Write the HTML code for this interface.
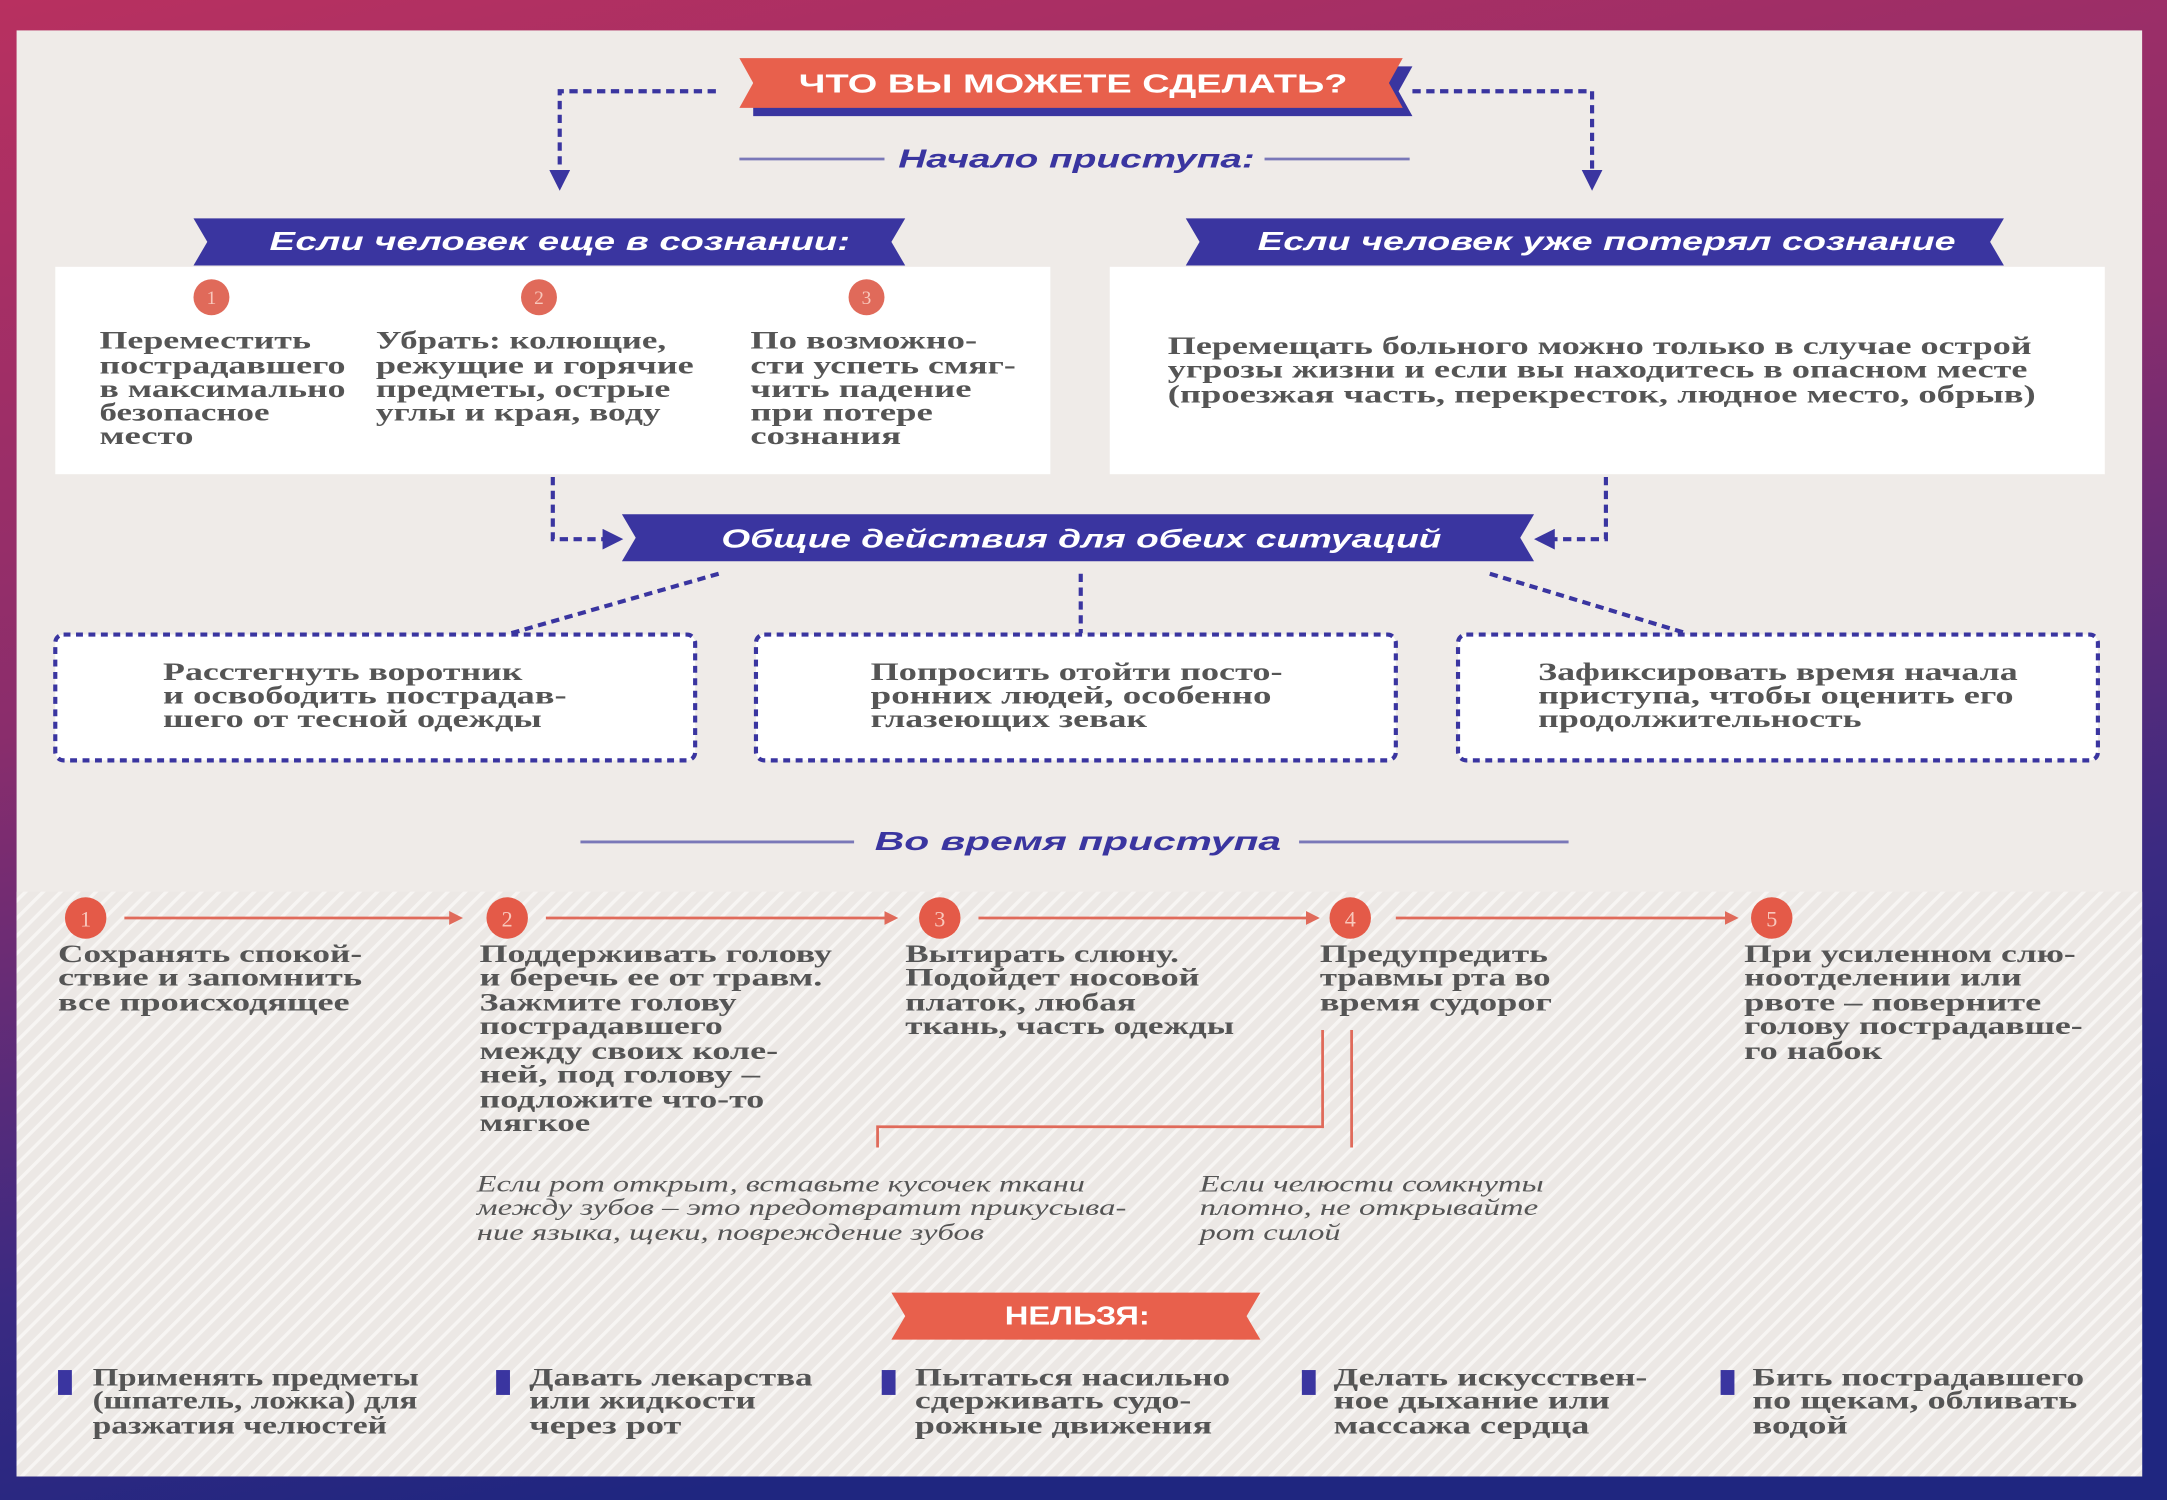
<!DOCTYPE html>
<html><head><meta charset="utf-8"><style>
html,body{margin:0;padding:0;width:2167px;height:1500px;overflow:hidden}
svg{display:block}
.t{font-family:"Liberation Serif",serif;font-size:18px;fill:#555;font-weight:bold}
.i{font-family:"Liberation Serif",serif;font-size:17px;fill:#555;font-style:italic}
.h{font-family:"Liberation Sans",sans-serif;font-weight:bold;font-style:italic;fill:#fff;font-size:19px}
</style></head><body>
<svg width="2167" height="1500" viewBox="0 0 1568 1085" preserveAspectRatio="none" xmlns="http://www.w3.org/2000/svg">
<defs>
<linearGradient id="bg" x1="0" y1="0" x2="0.3" y2="1">
<stop offset="0" stop-color="#b83060"/><stop offset="0.45" stop-color="#8a2d6c"/><stop offset="0.8" stop-color="#3a2a82"/><stop offset="1" stop-color="#1f2680"/>
</linearGradient>
<pattern id="st" width="9" height="9" patternUnits="userSpaceOnUse" patternTransform="rotate(45)">
<rect width="9" height="9" fill="#ece8e5"/><rect width="2.5" height="9" fill="#f7f5f3"/>
</pattern>
<marker id="ab" viewBox="0 0 10 10" refX="8" refY="5" markerWidth="5" markerHeight="5" orient="auto"><path d="M0,0L10,5L0,10z" fill="#3a35a0"/></marker>
<marker id="ar" viewBox="0 0 10 10" refX="8" refY="5" markerWidth="5" markerHeight="5" orient="auto"><path d="M0,0L10,5L0,10z" fill="#e06a5a"/></marker>
</defs>
<rect width="1568" height="1085" fill="url(#bg)"/>
<rect x="12" y="22" width="1538" height="1046" fill="#efebe8"/>
<rect x="12" y="645" width="1538" height="423" fill="url(#st)"/>

<!-- title ribbon -->
<polygon points="545,48 1022,48 1012,66 1022,84 545,84" fill="#3a35a0"/>
<polygon points="535,42 1015,42 1005,60 1015,78 535,78 545,60" fill="#e8604c"/>
<text x="578" y="67" textLength="397" lengthAdjust="spacingAndGlyphs" font-family="Liberation Sans,sans-serif" font-weight="bold" font-size="19" fill="#fff">ЧТО ВЫ МОЖЕТЕ СДЕЛАТЬ?</text>
<g stroke="#3a35a0" stroke-width="3" stroke-dasharray="6,4" fill="none">
<path d="M518,66H405V135" marker-end="url(#ab)"/>
<path d="M1022,66H1152V135" marker-end="url(#ab)"/>
</g>
<g stroke="#7a78b8" stroke-width="2"><line x1="535" y1="115" x2="640" y2="115"/><line x1="915" y1="115" x2="1020" y2="115"/></g>
<text x="650" y="121" textLength="258" lengthAdjust="spacingAndGlyphs" class="h" fill="#3a35a0" style="fill:#3a35a0">Начало приступа:</text>

<!-- blue ribbons -->
<polygon points="140,158 655,158 645,175 655,192 140,192 150,175" fill="#3a35a0"/>
<polygon points="858,158 1450,158 1440,175 1450,192 858,192 868,175" fill="#3a35a0"/>
<text x="195" y="181" textLength="420" lengthAdjust="spacingAndGlyphs" class="h">Если человек еще в сознании:</text>
<text x="910" y="181" textLength="505" lengthAdjust="spacingAndGlyphs" class="h">Если человек уже потерял сознание</text>

<!-- white boxes -->
<rect x="40" y="193" width="720" height="150" fill="#fff"/>
<rect x="803" y="193" width="720" height="150" fill="#fff"/>
<g fill="#e06a5a"><circle cx="153" cy="215" r="13"/><circle cx="390" cy="215" r="13"/><circle cx="627" cy="215" r="13"/></g>
<g font-family="Liberation Serif,serif" font-size="14" fill="#f8c8bc" text-anchor="middle"><text x="153" y="220">1</text><text x="390" y="220">2</text><text x="627" y="220">3</text></g>
<g class="t">
<text x="72" y="252" textLength="153" lengthAdjust="spacingAndGlyphs">Переместить</text>
<text x="72" y="270" textLength="178" lengthAdjust="spacingAndGlyphs">пострадавшего</text>
<text x="72" y="287" textLength="178" lengthAdjust="spacingAndGlyphs">в максимально</text>
<text x="72" y="304" textLength="123" lengthAdjust="spacingAndGlyphs">безопасное</text>
<text x="72" y="321" textLength="68" lengthAdjust="spacingAndGlyphs">место</text>
<text x="272" y="252" textLength="210" lengthAdjust="spacingAndGlyphs">Убрать: колющие,</text>
<text x="272" y="270" textLength="230" lengthAdjust="spacingAndGlyphs">режущие и горячие</text>
<text x="272" y="287" textLength="213" lengthAdjust="spacingAndGlyphs">предметы, острые</text>
<text x="272" y="304" textLength="206" lengthAdjust="spacingAndGlyphs">углы и края, воду</text>
<text x="543" y="252" textLength="164" lengthAdjust="spacingAndGlyphs">По возможно-</text>
<text x="543" y="270" textLength="192" lengthAdjust="spacingAndGlyphs">сти успеть смяг-</text>
<text x="543" y="287" textLength="160" lengthAdjust="spacingAndGlyphs">чить падение</text>
<text x="543" y="304" textLength="132" lengthAdjust="spacingAndGlyphs">при потере</text>
<text x="543" y="321" textLength="109" lengthAdjust="spacingAndGlyphs">сознания</text>
<text x="845" y="256" textLength="625" lengthAdjust="spacingAndGlyphs">Перемещать больного можно только в случае острой</text>
<text x="845" y="273" textLength="622" lengthAdjust="spacingAndGlyphs">угрозы жизни и если вы находитесь в опасном месте</text>
<text x="845" y="291" textLength="628" lengthAdjust="spacingAndGlyphs">(проезжая часть, перекресток, людное место, обрыв)</text>
</g>

<!-- center ribbon -->
<g stroke="#3a35a0" stroke-width="3" stroke-dasharray="6,4" fill="none">
<path d="M400,345V390H448" marker-end="url(#ab)"/>
<path d="M1162,345V390H1113" marker-end="url(#ab)"/>
<path d="M520,415L370,458"/>
<path d="M782,415V458"/>
<path d="M1078,415L1220,458"/>
</g>
<polygon points="450,372 1110,372 1100,389 1110,406 450,406 460,389" fill="#3a35a0"/>
<text x="522" y="396" textLength="521" lengthAdjust="spacingAndGlyphs" class="h">Общие действия для обеих ситуаций</text>

<g fill="#fff" stroke="#3a35a0" stroke-width="3" stroke-dasharray="5,4">
<rect x="40" y="459" width="463" height="91" rx="6"/>
<rect x="547" y="459" width="463" height="91" rx="6"/>
<rect x="1055" y="459" width="463" height="91" rx="6"/>
</g>
<g class="t">
<text x="118" y="492" textLength="260" lengthAdjust="spacingAndGlyphs">Расстегнуть воротник</text>
<text x="118" y="509" textLength="292" lengthAdjust="spacingAndGlyphs">и освободить пострадав-</text>
<text x="118" y="526" textLength="274" lengthAdjust="spacingAndGlyphs">шего от тесной одежды</text>
<text x="630" y="492" textLength="298" lengthAdjust="spacingAndGlyphs">Попросить отойти посто-</text>
<text x="630" y="509" textLength="290" lengthAdjust="spacingAndGlyphs">ронних людей, особенно</text>
<text x="630" y="526" textLength="200" lengthAdjust="spacingAndGlyphs">глазеющих зевак</text>
<text x="1113" y="492" textLength="347" lengthAdjust="spacingAndGlyphs">Зафиксировать время начала</text>
<text x="1113" y="509" textLength="344" lengthAdjust="spacingAndGlyphs">приступа, чтобы оценить его</text>
<text x="1113" y="526" textLength="234" lengthAdjust="spacingAndGlyphs">продолжительность</text>
</g>

<g stroke="#7a78b8" stroke-width="2"><line x1="420" y1="609" x2="618" y2="609"/><line x1="940" y1="609" x2="1135" y2="609"/></g>
<text x="633" y="615" textLength="294" lengthAdjust="spacingAndGlyphs" class="h" style="fill:#3a35a0">Во время приступа</text>

<!-- steps -->
<g stroke="#e06a5a" stroke-width="2" fill="none">
<line x1="90" y1="664" x2="333" y2="664" marker-end="url(#ar)"/>
<line x1="395" y1="664" x2="648" y2="664" marker-end="url(#ar)"/>
<line x1="708" y1="664" x2="953" y2="664" marker-end="url(#ar)"/>
<line x1="1010" y1="664" x2="1256" y2="664" marker-end="url(#ar)"/>
<path d="M957,745V815H635V830"/>
<path d="M978,745V830"/>
</g>
<g fill="#e45a48"><circle cx="62" cy="664" r="15"/><circle cx="367" cy="664" r="15"/><circle cx="680" cy="664" r="15"/><circle cx="977" cy="664" r="15"/><circle cx="1282" cy="664" r="15"/></g>
<g font-family="Liberation Serif,serif" font-size="16" fill="#f8c8bc" text-anchor="middle"><text x="62" y="670">1</text><text x="367" y="670">2</text><text x="680" y="670">3</text><text x="977" y="670">4</text><text x="1282" y="670">5</text></g>
<g class="t">
<text x="42" y="696" textLength="220" lengthAdjust="spacingAndGlyphs">Сохранять спокой-</text>
<text x="42" y="713" textLength="220" lengthAdjust="spacingAndGlyphs">ствие и запомнить</text>
<text x="42" y="731" textLength="211" lengthAdjust="spacingAndGlyphs">все происходящее</text>
<text x="347" y="696" textLength="255" lengthAdjust="spacingAndGlyphs">Поддерживать голову</text>
<text x="347" y="713" textLength="248" lengthAdjust="spacingAndGlyphs">и беречь ее от травм.</text>
<text x="347" y="731" textLength="186" lengthAdjust="spacingAndGlyphs">Зажмите голову</text>
<text x="347" y="748" textLength="176" lengthAdjust="spacingAndGlyphs">пострадавшего</text>
<text x="347" y="766" textLength="216" lengthAdjust="spacingAndGlyphs">между своих коле-</text>
<text x="347" y="783" textLength="203" lengthAdjust="spacingAndGlyphs">ней, под голову –</text>
<text x="347" y="801" textLength="206" lengthAdjust="spacingAndGlyphs">подложите что-то</text>
<text x="347" y="818" textLength="80" lengthAdjust="spacingAndGlyphs">мягкое</text>
<text x="655" y="696" textLength="198" lengthAdjust="spacingAndGlyphs">Вытирать слюну.</text>
<text x="655" y="713" textLength="213" lengthAdjust="spacingAndGlyphs">Подойдет носовой</text>
<text x="655" y="731" textLength="167" lengthAdjust="spacingAndGlyphs">платок, любая</text>
<text x="655" y="748" textLength="238" lengthAdjust="spacingAndGlyphs">ткань, часть одежды</text>
<text x="955" y="696" textLength="165" lengthAdjust="spacingAndGlyphs">Предупредить</text>
<text x="955" y="713" textLength="167" lengthAdjust="spacingAndGlyphs">травмы рта во</text>
<text x="955" y="731" textLength="168" lengthAdjust="spacingAndGlyphs">время судорог</text>
<text x="1262" y="696" textLength="240" lengthAdjust="spacingAndGlyphs">При усиленном слю-</text>
<text x="1262" y="713" textLength="201" lengthAdjust="spacingAndGlyphs">ноотделении или</text>
<text x="1262" y="731" textLength="215" lengthAdjust="spacingAndGlyphs">рвоте – поверните</text>
<text x="1262" y="748" textLength="245" lengthAdjust="spacingAndGlyphs">голову пострадавше-</text>
<text x="1262" y="766" textLength="100" lengthAdjust="spacingAndGlyphs">го набок</text>
</g>
<g class="i">
<text x="345" y="862" textLength="440" lengthAdjust="spacingAndGlyphs">Если рот открыт, вставьте кусочек ткани</text>
<text x="345" y="879" textLength="470" lengthAdjust="spacingAndGlyphs">между зубов – это предотвратит прикусыва-</text>
<text x="345" y="897" textLength="367" lengthAdjust="spacingAndGlyphs">ние языка, щеки, повреждение зубов</text>
<text x="868" y="862" textLength="249" lengthAdjust="spacingAndGlyphs">Если челюсти сомкнуты</text>
<text x="868" y="879" textLength="245" lengthAdjust="spacingAndGlyphs">плотно, не открывайте</text>
<text x="868" y="897" textLength="102" lengthAdjust="spacingAndGlyphs">рот силой</text>
</g>

<!-- НЕЛЬЗЯ -->
<polygon points="645,935 912,935 902,952 912,969 645,969 655,952" fill="#e8604c"/>
<text x="727" y="958" textLength="105" lengthAdjust="spacingAndGlyphs" font-family="Liberation Sans,sans-serif" font-weight="bold" font-size="19" fill="#fff">НЕЛЬЗЯ:</text>

<g fill="#3a35a0">
<rect x="42" y="991" width="10" height="18"/><rect x="359" y="991" width="10" height="18"/><rect x="638" y="991" width="10" height="18"/><rect x="942" y="991" width="10" height="18"/><rect x="1245" y="991" width="10" height="18"/>
</g>
<g class="t">
<text x="67" y="1002" textLength="236" lengthAdjust="spacingAndGlyphs">Применять предметы</text>
<text x="67" y="1019" textLength="235" lengthAdjust="spacingAndGlyphs">(шпатель, ложка) для</text>
<text x="67" y="1037" textLength="213" lengthAdjust="spacingAndGlyphs">разжатия челюстей</text>
<text x="383" y="1002" textLength="205" lengthAdjust="spacingAndGlyphs">Давать лекарства</text>
<text x="383" y="1019" textLength="164" lengthAdjust="spacingAndGlyphs">или жидкости</text>
<text x="383" y="1037" textLength="110" lengthAdjust="spacingAndGlyphs">через рот</text>
<text x="662" y="1002" textLength="228" lengthAdjust="spacingAndGlyphs">Пытаться насильно</text>
<text x="662" y="1019" textLength="200" lengthAdjust="spacingAndGlyphs">сдерживать судо-</text>
<text x="662" y="1037" textLength="215" lengthAdjust="spacingAndGlyphs">рожные движения</text>
<text x="965" y="1002" textLength="227" lengthAdjust="spacingAndGlyphs">Делать искусствен-</text>
<text x="965" y="1019" textLength="200" lengthAdjust="spacingAndGlyphs">ное дыхание или</text>
<text x="965" y="1037" textLength="185" lengthAdjust="spacingAndGlyphs">массажа сердца</text>
<text x="1268" y="1002" textLength="240" lengthAdjust="spacingAndGlyphs">Бить пострадавшего</text>
<text x="1268" y="1019" textLength="235" lengthAdjust="spacingAndGlyphs">по щекам, обливать</text>
<text x="1268" y="1037" textLength="69" lengthAdjust="spacingAndGlyphs">водой</text>
</g>
</svg>
</body></html>
